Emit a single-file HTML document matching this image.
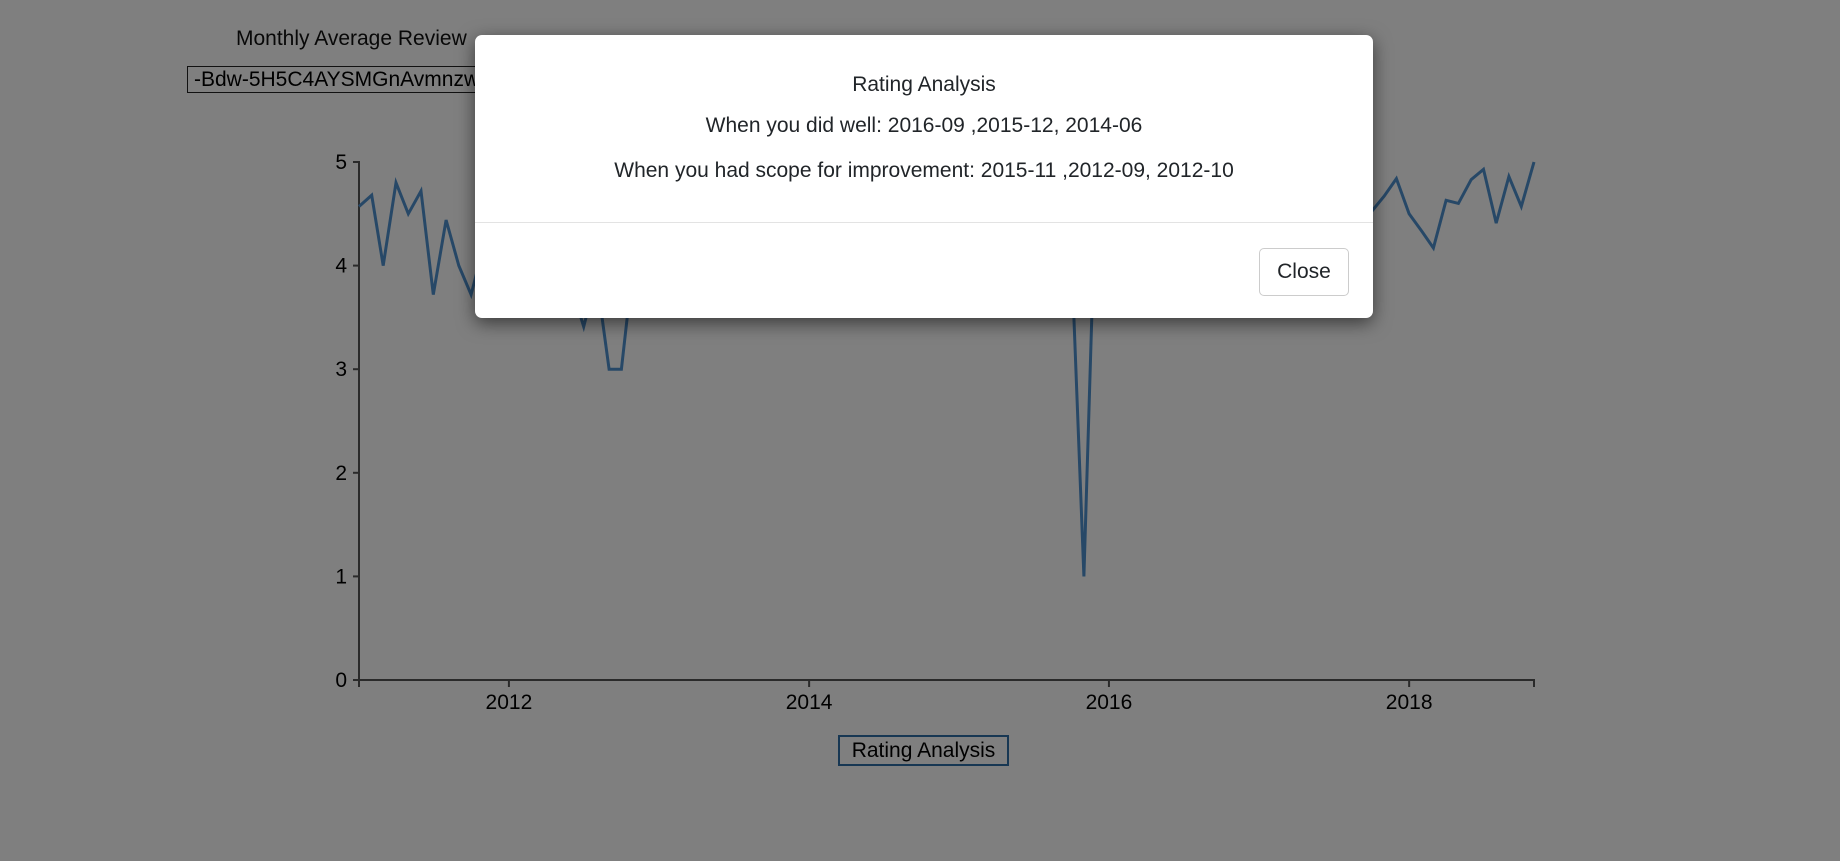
<!DOCTYPE html>
<html><head><meta charset="utf-8">
<style>
html,body{margin:0;padding:0;width:1840px;height:861px;overflow:hidden;background:#fff;font-family:"Liberation Sans",Arial,sans-serif;}
#overlay{position:absolute;left:0;top:0;width:1840px;height:861px;background:rgba(0,0,0,0.5);}
#modal{position:absolute;left:475px;top:35px;width:898px;height:283px;background:#fff;border-radius:7px;box-shadow:0 5px 18px rgba(0,0,0,0.55);color:#212529;}
.mt{position:absolute;left:0;width:100%;text-align:center;font-size:21px;}
#sep{position:absolute;left:0;top:187px;width:100%;height:1px;background:#e3e3e3;}
#close{position:absolute;left:784px;top:213px;width:90px;height:48px;border:1px solid #ccc;border-radius:5px;box-sizing:border-box;font-size:21px;line-height:46px;text-align:center;background:#fff;}
</style></head><body>
<div style="position:absolute;left:236px;top:27px;font-size:21px;color:#111;">Monthly Average Review</div>
<div style="position:absolute;left:187px;top:66px;width:330px;height:27px;border:1px solid #222;box-sizing:border-box;font-size:21px;line-height:25px;padding-left:6px;color:#000;white-space:nowrap;overflow:hidden;">-Bdw-5H5C4AYSMGnAvmnzw</div>
<svg id="chart" width="1840" height="861" style="position:absolute;left:0;top:0"></svg>
<div style="position:absolute;left:838px;top:735px;width:171px;height:31px;border:2px solid #2f6ea6;box-sizing:border-box;font-size:21px;line-height:27px;text-align:center;color:#000;background:#fff;">Rating Analysis</div>
<div id="overlay"></div>
<div id="modal">
<div class="mt" style="top:38px;">Rating Analysis</div>
<div class="mt" style="top:79px;">When you did well: 2016-09 ,2015-12, 2014-06</div>
<div class="mt" style="top:124px;">When you had scope for improvement: 2015-11 ,2012-09, 2012-10</div>
<div id="sep"></div>
<div id="close">Close</div>
</div>
<script>
const startYear = 2011;
const startMonth = 0;
const ratings = [
4.57,4.68,4.0,4.8,4.5,4.72,3.72,4.44,4.0,3.72,4.2,4.3,
4.1,4.3,4.0,4.2,3.9,3.8,3.41,3.9,3.0,3.0,4.1,4.3,
4.4,4.2,4.3,4.5,4.4,4.6,4.3,4.2,4.4,4.5,4.3,4.4,
4.5,4.3,4.6,4.4,4.5,4.8,4.4,4.3,4.5,4.4,4.6,4.5,
4.4,4.5,4.3,4.6,4.5,4.4,4.3,4.5,4.6,4.2,1.0,4.9,
4.5,4.4,4.6,4.3,4.5,4.6,4.4,4.5,4.9,4.4,4.5,4.6,
4.5,4.6,4.4,4.5,4.6,4.4,4.5,4.6,4.4,4.52,4.67,4.84,
4.5,4.33,4.17,4.63,4.6,4.83,4.93,4.41,4.86,4.57,5.0];
const yTicks = [0,1,2,3,4,5];
const xTickYears = [2012,2014,2016,2018];

const NS='http://www.w3.org/2000/svg';
const svg=document.getElementById('chart');
const t0=Date.UTC(2011,0,1), t1=Date.UTC(2018,10,1);
const X0=359, X1=1534, Y0=680, Y5=162;
function x(t){return X0+(t-t0)/(t1-t0)*(X1-X0);}
function y(v){return Y0-(v/5)*(Y0-Y5);}
function mk(tag,attrs){const e=document.createElementNS(NS,tag);for(const k in attrs)e.setAttribute(k,attrs[k]);svg.appendChild(e);return e;}
const ya=mk('path',{d:`M${X0-6},${Y5}H${X0}V${Y0}H${X0-6}`,fill:'none',stroke:'#555','stroke-width':2});


const xa=mk('path',{d:`M${X0},${Y0+7}V${Y0}H${X1}V${Y0+7}`,fill:'none',stroke:'#555','stroke-width':2});


yTicks.forEach(v=>{
  const l=mk('line',{x1:X0-6,x2:X0,y1:y(v),y2:y(v),stroke:'#555','stroke-width':2});
  
  
  const t=mk('text',{x:X0-12,y:y(v)+7,'text-anchor':'end','font-size':21,'font-family':'Liberation Sans, sans-serif',fill:'#000'});
  t.textContent=v;
  
  
});
xTickYears.forEach(yr=>{
  const px=x(Date.UTC(yr,0,1));
  const l=mk('line',{x1:px,x2:px,y1:Y0,y2:Y0+7,stroke:'#555','stroke-width':2});
  
  
  const t=mk('text',{x:px,y:Y0+29,'text-anchor':'middle','font-size':21,'font-family':'Liberation Sans, sans-serif',fill:'#000'});
  t.textContent=yr;
  
  
});
let d='';
ratings.forEach((v,i)=>{
  const t=Date.UTC(startYear,startMonth+i,1);
  d+=(i?'L':'M')+x(t).toFixed(1)+','+y(v).toFixed(1);
});
const line=mk('path',{d:d,fill:'none',stroke:'#4f91cf','stroke-width':3,'stroke-linejoin':'miter'});


</script>
</body></html>
